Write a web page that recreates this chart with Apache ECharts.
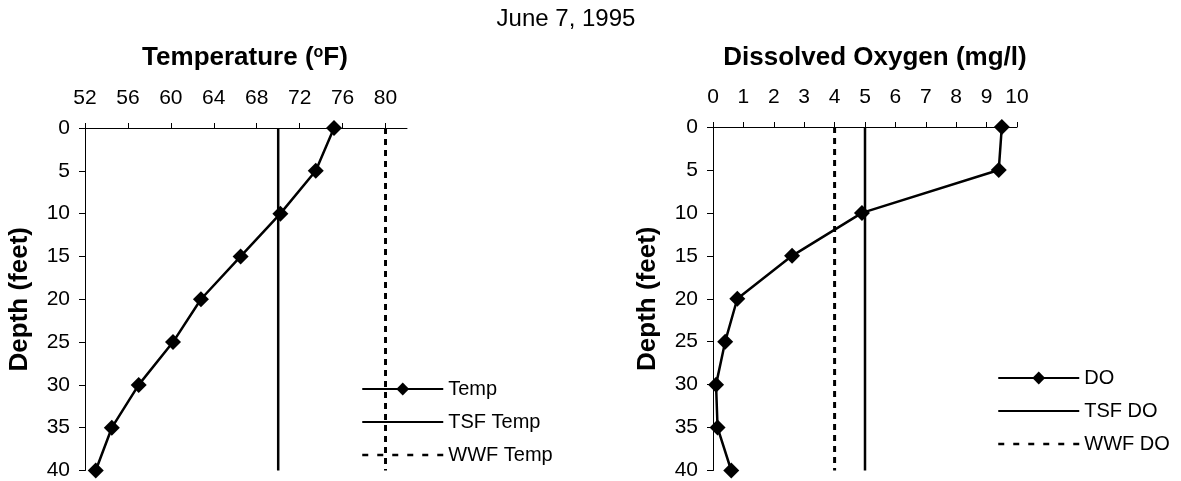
<!DOCTYPE html>
<html>
<head>
<meta charset="utf-8">
<script src="https://cdn.jsdelivr.net/npm/echarts@6/dist/echarts.min.js"></script>
<style>
  html, body { margin: 0; padding: 0; background: #fff; }
  #chart { width: 1181px; height: 481px; }
</style>
</head>
<body>
<div id="chart"></div>
<script>
// ---- data ----
const depths = [0, 5, 10, 15, 20, 25, 30, 35, 40];
const tempValues = [75.2, 73.5, 70.2, 66.5, 62.8, 60.2, 57.0, 54.5, 53.0];
const doValues = [9.5, 9.4, 4.9, 2.6, 0.8, 0.4, 0.1, 0.15, 0.6];
const tsfTemp = 70;
const wwfTemp = 80;
const tsfDO = 5;
const wwfDO = 4;
const tempTicks = [52, 56, 60, 64, 68, 72, 76, 80];
const doTicks = [0, 1, 2, 3, 4, 5, 6, 7, 8, 9, 10];
const depthTicks = [0, 5, 10, 15, 20, 25, 30, 35, 40];

const FONT = "'Liberation Sans', Arial, sans-serif";

function pairs(xs, ys) { return xs.map((x, i) => [x, ys[i]]); }
function vline(v) { return [[v, depthTicks[0]], [v, depthTicks[depthTicks.length - 1]]]; }

const chart = echarts.init(document.getElementById('chart'), null, { renderer: 'canvas' });

const axisLineStyle = { show: true, onZero: false, lineStyle: { color: '#000', width: 1 } };

function xAxisCfg(gridIndex, min, max, interval, ticks) {
  return {
    type: 'value', gridIndex, position: 'top', min, max, interval,
    axisLine: axisLineStyle,
    axisTick: { show: true, inside: false, length: 5, lineStyle: { color: '#000' }, customValues: ticks },
    axisLabel: { color: '#000', fontSize: 21, fontFamily: FONT, margin: 19, customValues: ticks },
    splitLine: { show: false }
  };
}
function yAxisCfg(gridIndex) {
  return {
    type: 'value', gridIndex, inverse: true, min: 0, max: 40, interval: 5,
    name: 'Depth (feet)', nameLocation: 'middle', nameGap: 52, nameRotate: 90,
    nameTextStyle: { color: '#000', fontSize: 26, fontWeight: 'bold', fontFamily: FONT },
    axisLine: axisLineStyle,
    axisTick: { show: true, inside: false, length: 6, lineStyle: { color: '#000' } },
    axisLabel: { color: '#000', fontSize: 21, fontFamily: FONT, margin: 15 },
    splitLine: { show: false }
  };
}

function dataSeries(name, xi, data) {
  return {
    name, type: 'line', xAxisIndex: xi, yAxisIndex: xi, data,
    symbol: 'diamond', symbolSize: 16, showSymbol: true,
    itemStyle: { color: '#000' },
    lineStyle: { color: '#000', width: 2.5 },
    animation: false, z: 5
  };
}
function refSeries(name, xi, data, dashed) {
  return {
    name, type: 'line', xAxisIndex: xi, yAxisIndex: xi, data,
    symbol: 'none',
    itemStyle: { color: '#000' },
    lineStyle: dashed ? { color: '#000', width: 3, type: [6, 5] } : { color: '#000', width: 2.5 },
    animation: false, z: 3
  };
}

function legendCfg(names, left, top) {
  return {
    data: [
      { name: names[0] },
      { name: names[1], itemStyle: { opacity: 0 } },
      { name: names[2], itemStyle: { opacity: 0 }, lineStyle: { width: 2.5, type: [6, 9] } }
    ],
    orient: 'vertical', left, top, padding: 0,
    itemWidth: 81, itemHeight: 16, itemGap: 13,
    textStyle: { color: '#000', fontSize: 20, fontFamily: FONT },
    selectedMode: false
  };
}

const option = {
  backgroundColor: '#fff',
  animation: false,
  grid: [
    { left: 85, top: 128, width: 322, height: 347 },
    { left: 713, top: 127, width: 304, height: 347 }
  ],
  xAxis: [
    xAxisCfg(0, 52, 82, 4, tempTicks),
    xAxisCfg(1, 0, 10, 1, doTicks)
  ],
  yAxis: [yAxisCfg(0), yAxisCfg(1)],
  legend: [
    legendCfg(['Temp', 'TSF Temp', 'WWF Temp'], 361, 379),
    legendCfg(['DO', 'TSF DO', 'WWF DO'], 997, 368)
  ],
  graphic: [
    { type: 'text', x: 566, y: 19, style: { text: 'June 7, 1995', font: "24px " + FONT, fill: '#000', align: 'center', verticalAlign: 'middle' } },
    { type: 'text', x: 245, y: 58, style: {
        text: '{n|Temperature (}{s|o}{n|F)}', fill: '#000', align: 'center', verticalAlign: 'middle',
        rich: {
          n: { fontSize: 26, fontWeight: 'bold', fontFamily: FONT, fill: '#000' },
          s: { fontSize: 16, fontWeight: 'bold', fontFamily: FONT, fill: '#000', verticalAlign: 'top' }
        } } },
    { type: 'text', x: 875, y: 58, style: { text: 'Dissolved Oxygen (mg/l)', font: "bold 26px " + FONT, fill: '#000', align: 'center', verticalAlign: 'middle' } }
  ],
  series: [
    dataSeries('Temp', 0, pairs(tempValues, depths)),
    refSeries('TSF Temp', 0, vline(tsfTemp), false),
    refSeries('WWF Temp', 0, vline(wwfTemp), true),
    dataSeries('DO', 1, pairs(doValues, depths)),
    refSeries('TSF DO', 1, vline(tsfDO), false),
    refSeries('WWF DO', 1, vline(wwfDO), true)
  ]
};
chart.setOption(option);
</script>
</body>
</html>
